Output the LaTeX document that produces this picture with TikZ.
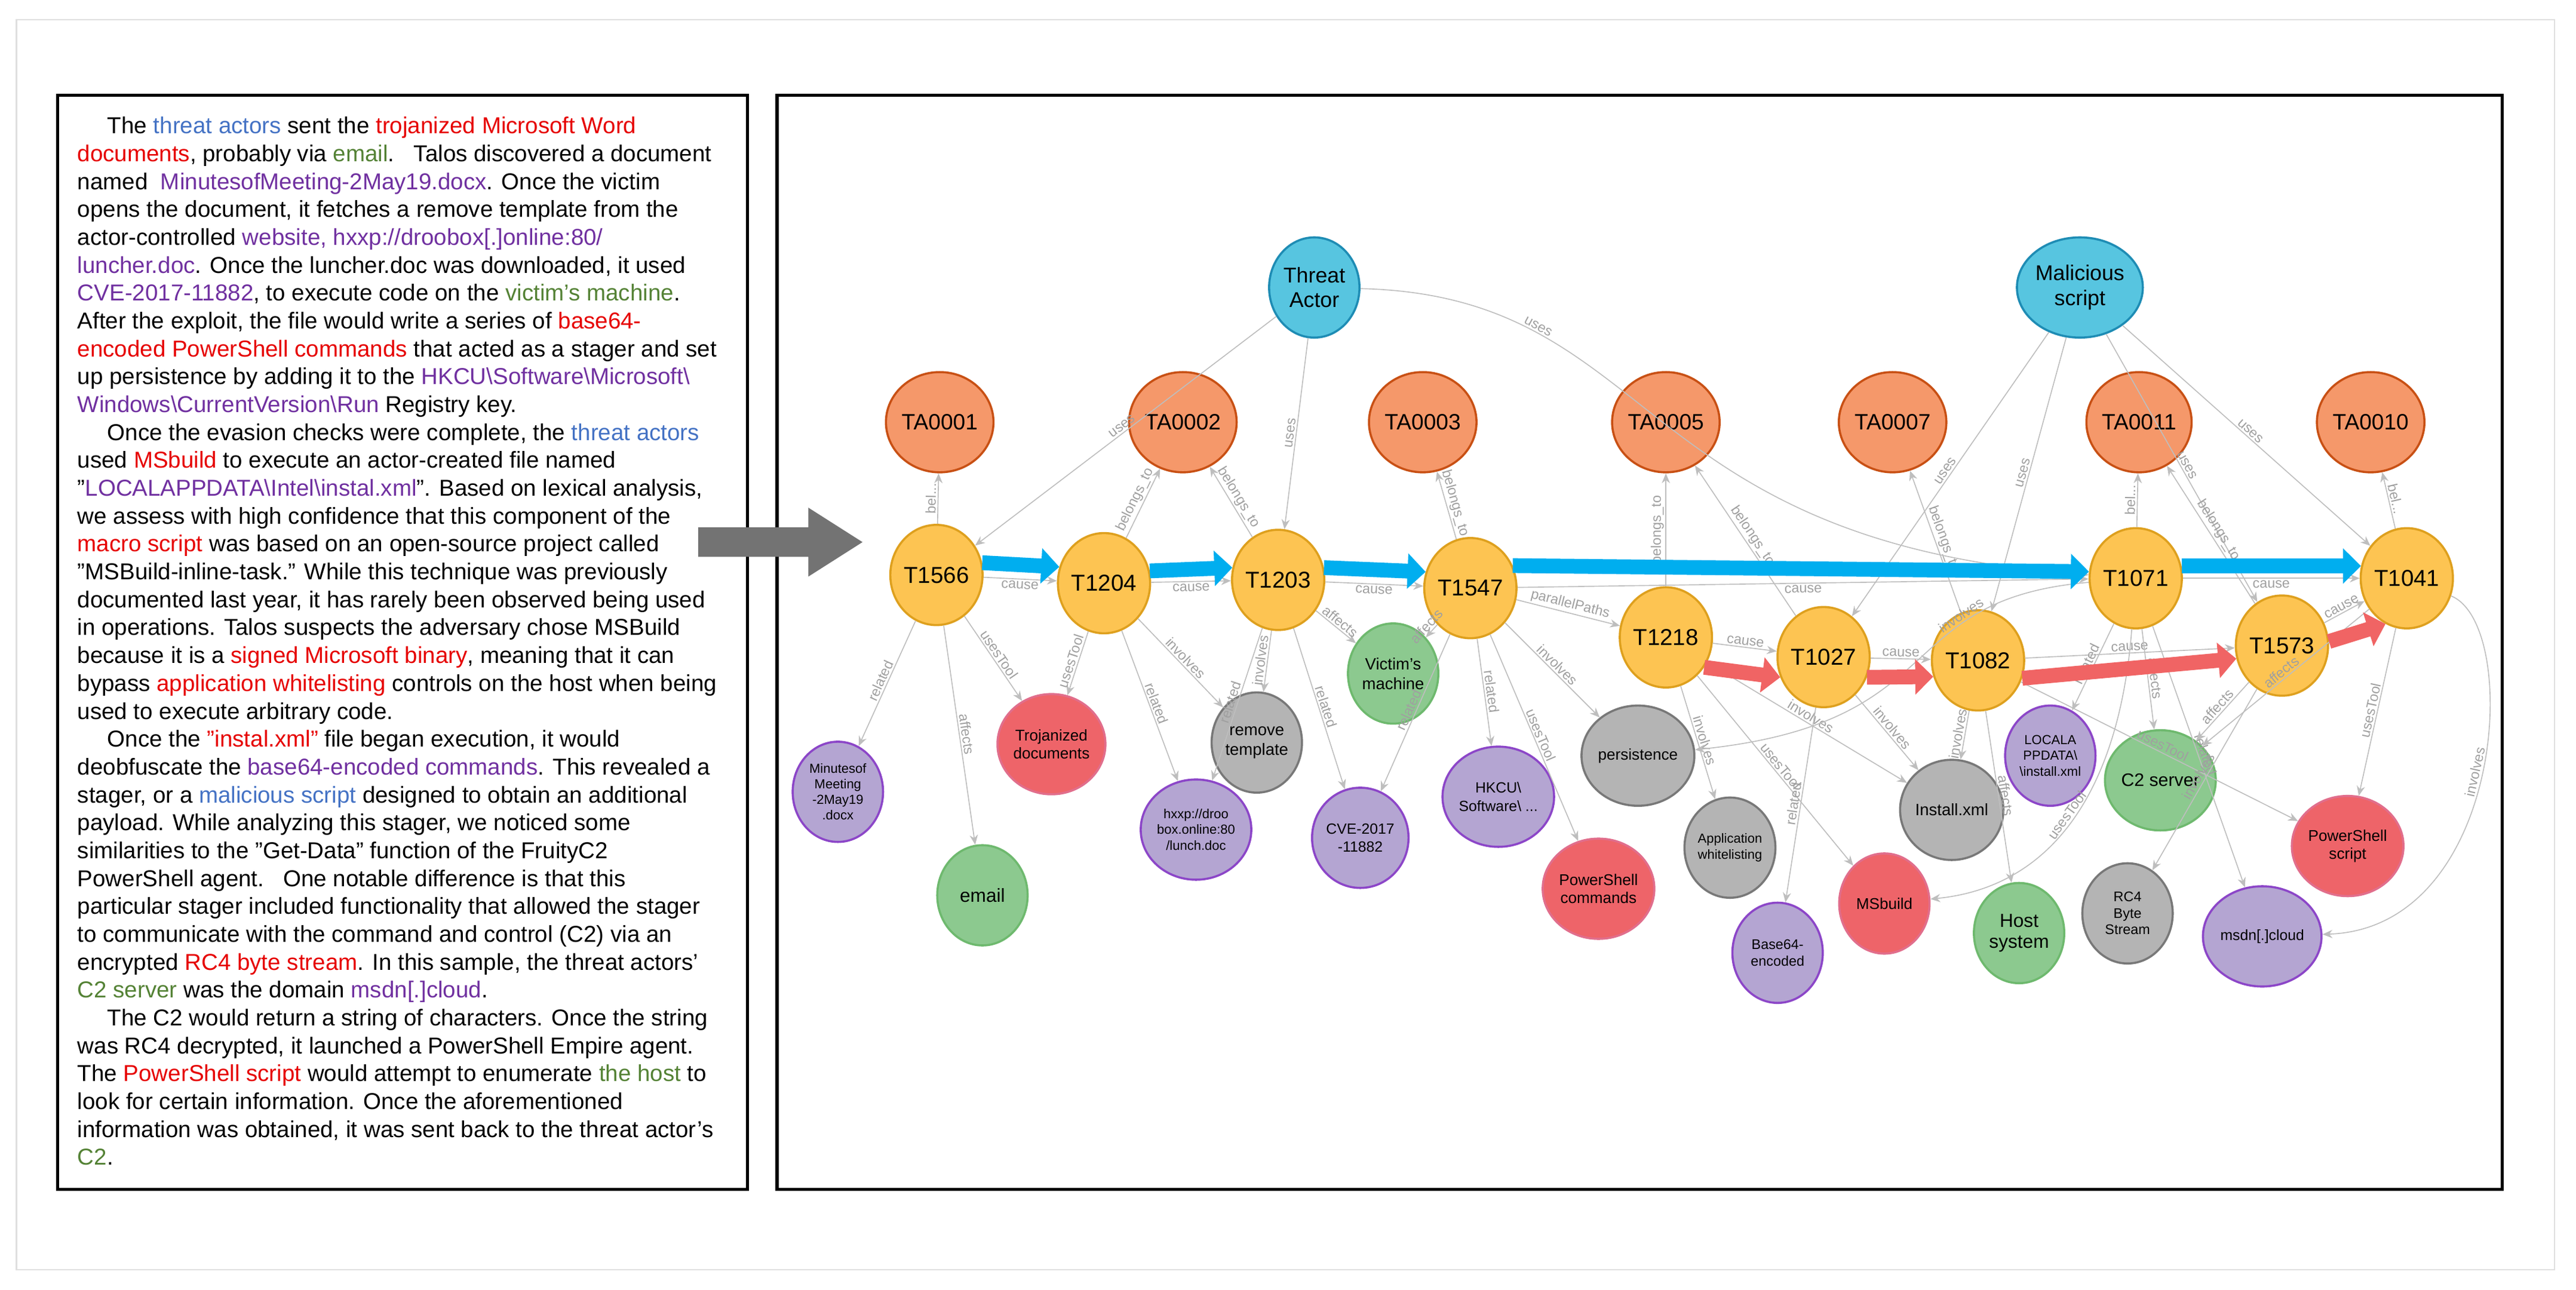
\documentclass[tikz,border=0pt]{standalone}
\usepackage{fontspec}
\setmainfont{Liberation Sans}
\usepackage{xcolor}
\usetikzlibrary{arrows.meta,shapes.geometric,calc}
\definecolor{tblue}{RGB}{68,114,196}
\definecolor{tred}{RGB}{230,0,0}
\definecolor{tgreen}{RGB}{84,130,53}
\definecolor{tpurple}{RGB}{112,48,160}
\definecolor{flowblue}{RGB}{0,174,239}
\definecolor{flowred}{RGB}{240,100,100}
\newcommand{\hlb}[1]{\textcolor{tblue}{#1}}
\newcommand{\hlr}[1]{\textcolor{tred}{#1}}
\newcommand{\hlg}[1]{\textcolor{tgreen}{#1}}
\newcommand{\hlp}[1]{\textcolor{tpurple}{#1}}
\newcommand{\beltrunc}{bel...}
\tikzset{
  ent/.style={ellipse, minimum width=55pt, minimum height=61pt, inner sep=0pt, line width=1.3pt, align=center, font=\fontsize{9.5}{11}\selectfont},
  tech/.style={ent, draw={rgb,255:red,222;green,160;blue,30}, fill={rgb,255:red,253;green,196;blue,82}, font=\fontsize{14}{15}\selectfont},
  tac/.style={ent, draw={rgb,255:red,200;green,80;blue,20}, fill={rgb,255:red,245;green,152;blue,106}, font=\fontsize{13.5}{15}\selectfont},
  actor/.style={ent, draw={rgb,255:red,30;green,140;blue,180}, fill={rgb,255:red,87;green,197;blue,224}, font=\fontsize{13}{15}\selectfont},
  grn/.style={ent, draw={rgb,255:red,110;green,185;blue,110}, fill={rgb,255:red,140;green,201;blue,143}},
  rd/.style={ent, draw={rgb,255:red,225;green,110;blue,140}, fill={rgb,255:red,238;green,100;blue,105}},
  prp/.style={ent, draw={rgb,255:red,140;green,70;blue,200}, fill={rgb,255:red,180;green,165;blue,210}, font=\fontsize{8}{9.5}\selectfont},
  gry/.style={ent, draw={rgb,255:red,120;green,120;blue,120}, fill={rgb,255:red,180;green,180;blue,180}},
  edge/.style={draw={rgb,255:red,190;green,190;blue,190}, line width=0.6pt, -{Stealth[length=6pt,width=5pt]}},
  lbl/.style={sloped, above, inner sep=1pt, text={rgb,255:red,160;green,160;blue,160}, font=\fontsize{8.5}{9}\selectfont},
  flow/.style={line width=9pt, -{Triangle[length=11pt,width=21pt]}},
}
\begin{document}
\begin{tikzpicture}[x=1pt,y=-1pt]
    \useasboundingbox (0,0) rectangle (1568,785);
    \draw[gray!25, line width=0.8pt] (10,12) rectangle (1555,773);
    \draw[line width=2pt] (35,58) rectangle (455,724);
    \draw[line width=2pt] (473,58) rectangle (1523,724);
    %
    \node[anchor=north west, align=left, inner sep=0pt, font=\fontsize{14}{16.97}\selectfont] (story) at (47,71) {%
    \hspace*{1.3em}The \hlb{threat actors} sent the \hlr{trojanized Microsoft Word}\\
    \hlr{documents}, probably via \hlg{email}.\ \ \ Talos discovered a document\\
    named\ \ \hlp{MinutesofMeeting-2May19.docx}. Once the victim\\
    opens the document, it fetches a remove template from the\\
    actor-controlled \hlp{website, hxxp://droobox[.]online:80/}\\
    \hlp{luncher.doc}. Once the luncher.doc was downloaded, it used\\
    \hlp{CVE-2017-11882}, to execute code on the \hlg{victim's machine}.\\
    After the exploit, the file would write a series of \hlr{base64-}\\
    \hlr{encoded PowerShell commands} that acted as a stager and set\\
    up persistence by adding it to the \hlp{HKCU\textbackslash Software\textbackslash Microsoft\textbackslash}\\
    \hlp{Windows\textbackslash CurrentVersion\textbackslash Run} Registry key.\\
    \hspace*{1.3em}Once the evasion checks were complete, the \hlb{threat actors}\\
    used \hlr{MSbuild} to execute an actor-created file named\\
    ''\hlp{LOCALAPPDATA\textbackslash Intel\textbackslash instal.xml}''. Based on lexical analysis,\\
    we assess with high confidence that this component of the\\
    \hlr{macro script} was based on an open-source project called\\
    ''MSBuild-inline-task.'' While this technique was previously\\
    documented last year, it has rarely been observed being used\\
    in operations. Talos suspects the adversary chose MSBuild\\
    because it is a \hlr{signed Microsoft binary}, meaning that it can\\
    bypass \hlr{application whitelisting} controls on the host when being\\
    used to execute arbitrary code.\\
    \hspace*{1.3em}Once the \hlr{''instal.xml''} file began execution, it would\\
    deobfuscate the \hlp{base64-encoded commands}. This revealed a\\
    stager, or a \hlb{malicious script} designed to obtain an additional\\
    payload. While analyzing this stager, we noticed some\\
    similarities to the ''Get-Data'' function of the FruityC2\\
    PowerShell agent.\ \ \ One notable difference is that this\\
    particular stager included functionality that allowed the stager\\
    to communicate with the command and control (C2) via an\\
    encrypted \hlr{RC4 byte stream}. In this sample, the threat actors'\\
    \hlg{C2 server} was the domain \hlp{msdn[.]cloud}.\\
    \hspace*{1.3em}The C2 would return a string of characters. Once the string\\
    was RC4 decrypted, it launched a PowerShell Empire agent.\\
    The \hlr{PowerShell script} would attempt to enumerate \hlg{the host} to\\
    look for certain information. Once the aforementioned\\
    information was obtained, it was sent back to the threat actor's\\
    \hlg{C2}.};
    %
    \fill[gray!90!black] (425,321) -- (492,321) -- (492,309) -- (525,330) -- (492,351) -- (492,339) -- (425,339) -- cycle;
    %
    \node[actor] (ta) at (800,175) {Threat\\Actor};
    \node[actor] (ms) at (1266,175) {Malicious\\script};
    \node[tac] (a1) at (572,257) {TA0001};
    \node[tac] (a2) at (720,257) {TA0002};
    \node[tac] (a3) at (866,257) {TA0003};
    \node[tac] (a5) at (1014,257) {TA0005};
    \node[tac] (a7) at (1152,257) {TA0007};
    \node[tac] (a11) at (1302,257) {TA0011};
    \node[tac] (a10) at (1443,257) {TA0010};
    \node[tech] (t1566) at (570,350) {T1566};
    \node[tech] (t1204) at (672,355) {T1204};
    \node[tech] (t1203) at (778,353) {T1203};
    \node[tech] (t1547) at (895,358) {T1547};
    \node[tech] (t1218) at (1014,388) {T1218};
    \node[tech] (t1027) at (1110,400) {T1027};
    \node[tech] (t1082) at (1204,402) {T1082};
    \node[tech] (t1071) at (1300,352) {T1071};
    \node[tech] (t1573) at (1389,393) {T1573};
    \node[tech] (t1041) at (1465,352) {T1041};
    \node[prp] (minutes) at (510,482) {Minutesof\\Meeting\\-2May19\\.docx};
    \node[grn, font=\fontsize{11.5}{13}\selectfont] (email) at (598,545) {email};
    \node[rd] (trojan) at (640,453) {Trojanized\\documents};
    \node[prp] (hxxp) at (728,505) {hxxp://droo\\box.online:80\\/lunch.doc};
    \node[gry, font=\fontsize{10}{12}\selectfont] (remote) at (765,452) {remove\\template};
    \node[prp, font=\fontsize{9}{11}\selectfont] (cve) at (828,510) {CVE-2017\\-11882};
    \node[grn, font=\fontsize{10}{12}\selectfont] (victim) at (848,410) {Victim's\\machine};
    \node[prp, font=\fontsize{9}{11}\selectfont] (hkcu) at (912,485) {HKCU\textbackslash\\Software\textbackslash\ ...};
    \node[rd] (pscmd) at (973,541) {PowerShell\\commands};
    \node[gry] (persist) at (997,460) {persistence};
    \node[gry, font=\fontsize{8}{10}\selectfont] (appwl) at (1053,516) {Application\\whitelisting};
    \node[prp, font=\fontsize{8.5}{10}\selectfont] (b64) at (1082,580) {Base64-\\encoded};
    \node[rd] (msbuild) at (1147,550) {MSbuild};
    \node[gry, font=\fontsize{10}{12}\selectfont] (install) at (1188,493) {Install.xml};
    \node[prp] (localapp) at (1248,460) {LOCALA\\PPDATA\textbackslash\\\textbackslash install.xml};
    \node[grn, font=\fontsize{11.5}{13}\selectfont] (host) at (1229,568) {Host\\system};
    \node[grn, font=\fontsize{11}{13}\selectfont] (c2) at (1315,475) {C2 server};
    \node[gry, font=\fontsize{8.5}{10}\selectfont] (rc4) at (1295,556) {RC4\\Byte\\Stream};
    \node[prp, font=\fontsize{9}{11}\selectfont] (msdn) at (1377,570) {msdn[.]cloud};
    \node[rd] (psscript) at (1429,515) {PowerShell\\script};
    %
    \foreach \a/\b/\l in {ta/t1566/uses, ta/t1203/uses, ms/t1027/uses, ms/t1082/uses, ms/t1573/uses, ms/t1041/uses,
        t1566/a1/\beltrunc, t1204/a2/belongs\_to, t1203/a2/belongs\_to, t1547/a3/belongs\_to, t1218/a5/belongs\_to,
        t1027/a5/belongs\_to, t1082/a7/belongs\_to, t1071/a11/\beltrunc, t1573/a11/belongs\_to, t1041/a10/\beltrunc,
        t1547/t1218/parallelPaths,
        t1218/t1027/cause, t1027/t1082/cause, t1082/t1573/cause, t1573/t1041/cause,
        t1566/minutes/related, t1566/email/affects, t1566/trojan/usesTool,
        t1204/trojan/usesTool, t1204/hxxp/related, t1204/remote/involves,
        t1203/remote/involves, t1203/hxxp/related, t1203/cve/related, t1203/victim/affects,
        t1547/victim/affects, t1547/cve/related, t1547/hkcu/related, t1547/pscmd/usesTool, t1547/persist/involves,
        t1218/appwl/involves, t1218/msbuild/usesTool, t1218/install/involves,
        t1027/b64/related, t1027/install/involves, t1082/install/involves, t1082/host/affects, t1082/psscript/usesTool,
        t1071/localapp/related, t1071/c2/affects, t1071/msdn/related,
        t1573/c2/affects, t1573/rc4/involves, t1041/c2/affects, t1041/psscript/usesTool}
      \draw[edge] (\a) -- node[lbl] {\l} (\b);
    \foreach \a/\b in {t1566/t1204, t1204/t1203, t1203/t1547, t1547/t1071, t1071/t1041}
      \draw[edge] (\a) -- node[lbl, below] {cause} (\b);
    %
    \draw[edge] (ta) .. controls (1010,180) and (990,330) .. node[lbl, pos=0.25] {uses} (t1071);
    \draw[edge] (t1071) .. controls (1150,365) and (1190,440) .. node[lbl, pos=0.3] {involves} (persist);
    \draw[edge] (t1071) .. controls (1290,480) and (1250,540) .. node[lbl, pos=0.5] {usesTool} (msbuild);
    \draw[edge] (t1041) .. controls (1535,380) and (1525,565) .. node[lbl, pos=0.5] {involves} (msdn);
    %
    \draw[flow, flowblue] (t1566.15) -- (t1204.160);
    \draw[flow, flowblue] (t1204.15) -- (t1203.165);
    \draw[flow, flowblue] (t1203.15) -- (t1547.160);
    \draw[flow, flowblue] (t1547.28) -- (t1071.172);
    \draw[flow, flowblue] (t1071.15) -- (t1041.165);
    \draw[flow, flowred] (t1218.-38) -- (t1027.205);
    \draw[flow, flowred] (t1027.-25) -- (t1082.200);
    \draw[flow, flowred] (t1082.-22) -- (t1573.196);
    \draw[flow, flowred] (t1573.5) -- (t1041.245);
\end{tikzpicture}
\end{document}
